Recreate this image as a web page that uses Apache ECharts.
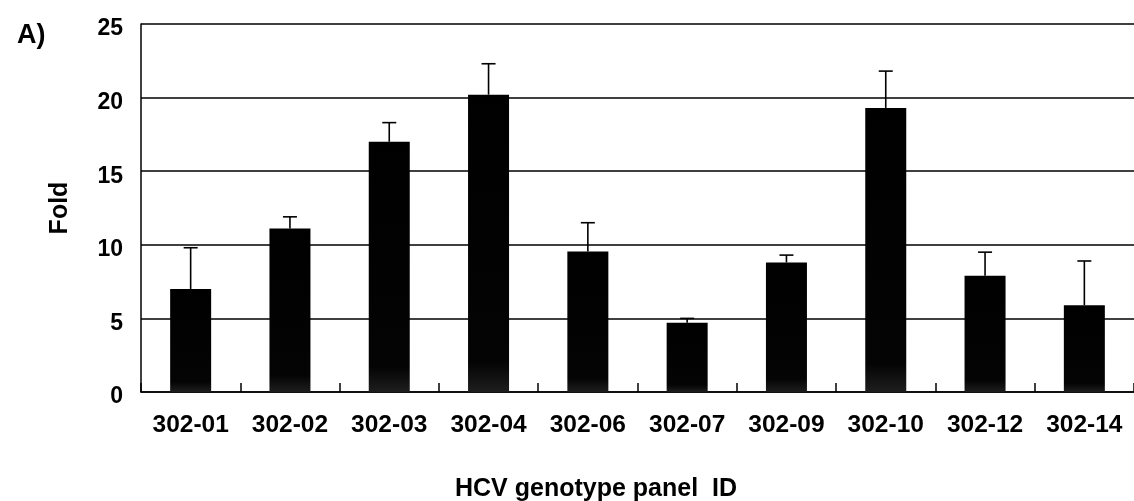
<!DOCTYPE html>
<html>
<head>
<meta charset="utf-8">
<script src="https://cdn.jsdelivr.net/npm/echarts@6/dist/echarts.min.js"></script>
<style>html,body{margin:0;padding:0;background:#fff}#c{width:1134px;height:501px}</style>
</head>
<body>
<div id="c"></div>
<script>
const categories = ['302-01','302-02','302-03','302-04','302-06','302-07','302-09','302-10','302-12','302-14'];
const foldValues = [7.0, 11.1, 17.0, 20.2, 9.55, 4.7, 8.8, 19.3, 7.9, 5.9];
const errorTops = [9.8, 11.9, 18.3, 22.3, 11.5, 5.0, 9.3, 21.8, 9.5, 8.9];
const yTicks = [0, 5, 10, 15, 20, 25];

const FONT = '"Liberation Sans", Arial, sans-serif';
const chart = echarts.init(document.getElementById('c'), null, {renderer: 'canvas'});
chart.setOption({
  animation: false,
  backgroundColor: '#fff',
  title: {
    text: 'A)', left: 12, top: 17,
    textStyle: {fontFamily: FONT, fontWeight: 'bold', fontSize: 27, color: '#000'}
  },
  graphic: [{
    type: 'text', left: 455, top: 477,
    style: {text: 'HCV genotype panel  ID', fontFamily: FONT, fontWeight: 'bold', fontSize: 25, fill: '#000'}
  }],
  grid: {left: 141, top: 24, width: 995, bottom: 109, containLabel: false},
  xAxis: {
    type: 'category',
    data: categories,
    axisLine: {lineStyle: {color: '#000', width: 1.5}},
    axisTick: {show: true, inside: true, length: 9, lineStyle: {color: '#000', width: 1.5}},
    axisLabel: {fontFamily: FONT, fontWeight: 'bold', fontSize: 24.5, color: '#000', margin: 21, interval: 0}
  },
  yAxis: {
    type: 'value', min: 0, max: 25, interval: 5,
    name: 'Fold', nameLocation: 'middle', nameGap: 68,
    nameTextStyle: {fontFamily: FONT, fontWeight: 'bold', fontSize: 25, color: '#000'},
    axisLine: {show: true, lineStyle: {color: '#000', width: 1.5}},
    axisTick: {show: false},
    splitLine: {lineStyle: {color: '#000', width: 1.5}},
    axisLabel: {
      fontFamily: FONT, fontWeight: 'bold', fontSize: 23, color: '#000', margin: 18,
      verticalAlign: 'top', lineHeight: 10,
      formatter: v => yTicks.includes(v) ? String(v) : ''
    }
  },
  series: [
    {
      type: 'bar', data: foldValues, barWidth: 41,
      itemStyle: {
        color: new echarts.graphic.LinearGradient(0, 0, 0, 1, [
          {offset: 0, color: '#000'}, {offset: 0.9, color: '#040404'}, {offset: 1, color: '#1e1e1e'}
        ])
      },
      z: 2
    },
    {
      type: 'custom', z: 3,
      data: foldValues.map((v, i) => [i, v, errorTops[i]]),
      renderItem: function (params, api) {
        const base = api.coord([api.value(0), api.value(1)]);
        const top = api.coord([api.value(0), api.value(2)]);
        const st = {stroke: '#000', lineWidth: 1.6};
        return {
          type: 'group',
          children: [
            {type: 'line', shape: {x1: base[0], y1: base[1], x2: top[0], y2: top[1]}, style: st},
            {type: 'line', shape: {x1: top[0] - 7, y1: top[1], x2: top[0] + 7, y2: top[1]}, style: st}
          ]
        };
      }
    }
  ]
});
</script>
</body>
</html>
